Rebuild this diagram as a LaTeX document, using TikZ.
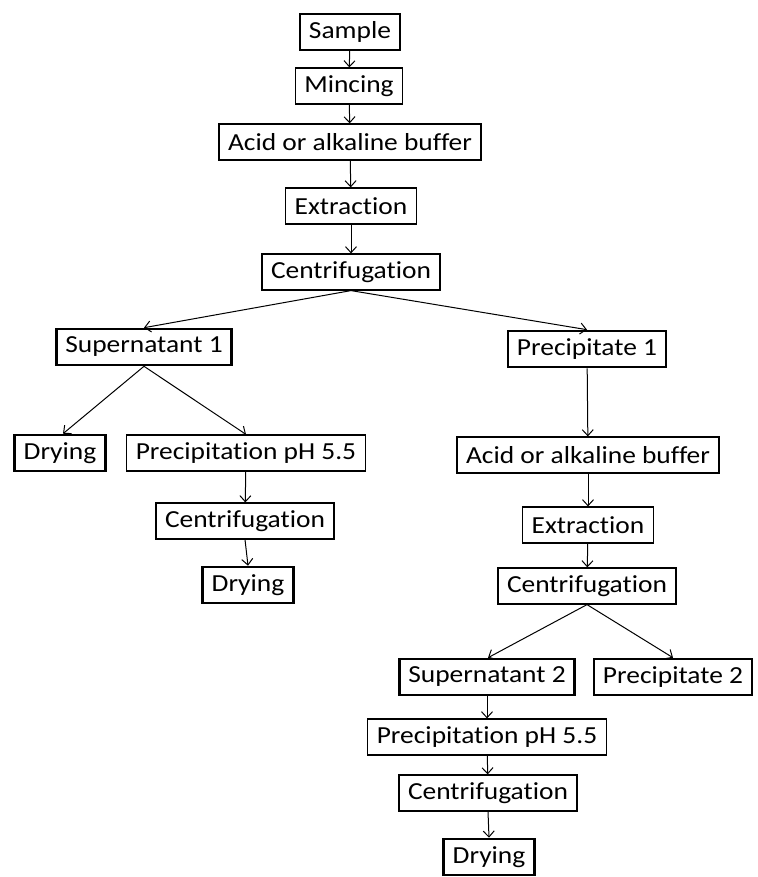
\documentclass[tikz,border=0pt]{standalone}
\usepackage{fontspec}
\setmainfont{Carlito}[FakeStretch=1.12,Ligatures=NoCommon]
\usetikzlibrary{arrows.meta}
\tikzset{
  box/.style={draw, line width=1.2pt, inner xsep=9pt, inner ysep=0pt, minimum height=36pt, font=\fontsize{24.5}{27}\selectfont, anchor=center},
  thick box/.style={box, line width=2.6pt},
  arr/.style={line width=1pt, -{Straight Barb[length=6pt,width=11pt,line width=1pt]}}
}
\begin{document}
\begin{tikzpicture}[x=1pt,y=-1pt]
\useasboundingbox (0,0) rectangle (757,877);
\node[box] (s) at (350,32) {Sample};
\node[box] (m) at (349,86) {Mincing};
\node[box] (a) at (350,142) {Acid or alkaline buffer};
\node[box] (e) at (351,206) {Extraction};
\node[box] (c) at (351,272) {Centrifugation};
\node[thick box] (s1) at (144,347) {Supernatant 1};
\node[thick box] (p1) at (587,349) {Precipitate 1};
\node[thick box] (d1) at (60,453) {Drying};
\node[box] (pp1) at (246,453) {Precipitation pH 5.5};
\node[box] (c1) at (245,521) {Centrifugation};
\node[thick box] (d2) at (248,585) {Drying};
\node[box] (a2) at (588,455) {Acid or alkaline buffer};
\node[box] (e2) at (588,525) {Extraction};
\node[box] (c2) at (587,586) {Centrifugation};
\node[thick box] (s2) at (487,677) {Supernatant 2};
\node[thick box] (p2) at (673,677) {Precipitate 2};
\node[box] (pp2) at (487,737) {Precipitation pH 5.5};
\node[box] (c3) at (488,793) {Centrifugation};
\node[thick box] (d3) at (489,857) {Drying};
\draw[arr] (s) -- (m);
\draw[arr] (m) -- (a);
\draw[arr] (a) -- (e);
\draw[arr] (e) -- (c);
\draw[arr] (c.south) -- (s1.north);
\draw[arr] (c.south) -- (p1.north);
\draw[arr] (s1.south) -- ([xshift=3pt]d1.north);
\draw[arr] (s1.south) -- (pp1.north);
\draw[arr] (pp1) -- (c1);
\draw[arr] (c1.south) -- (d2.north);
\draw[arr] (p1) -- (a2);
\draw[arr] (a2) -- (e2);
\draw[arr] (e2) -- (c2);
\draw[arr] (c2.south) -- ([xshift=1pt]s2.north);
\draw[arr] (c2.south) -- (p2.north);
\draw[arr] (s2) -- (pp2);
\draw[arr] (pp2) -- (c3);
\draw[arr] (c3.south) -- (d3.north);
\end{tikzpicture}
\end{document}
